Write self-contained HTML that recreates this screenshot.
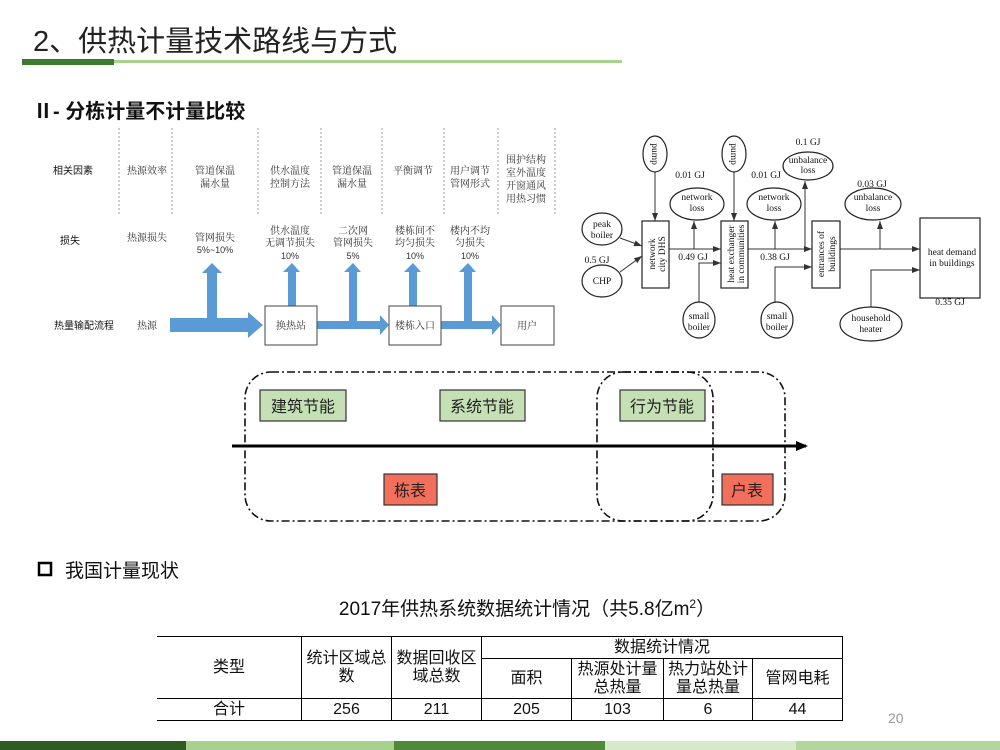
<!DOCTYPE html>
<html><head><meta charset="utf-8">
<style>
html,body{margin:0;padding:0;background:#fff;}
body{width:1000px;height:750px;position:relative;overflow:hidden;font-family:"Liberation Sans","Noto Sans CJK SC",sans-serif;}
svg text{font-family:"Liberation Serif","Noto Serif CJK SC",serif;}
.cn{font-family:"Liberation Sans","Noto Sans CJK SC",sans-serif;}
table{position:absolute;left:157px;top:636px;border-collapse:collapse;font-family:"Liberation Sans","Noto Sans CJK SC",sans-serif;font-size:16px;color:#111;}
td{border:1px solid #000;text-align:center;padding:0;line-height:18px;}
</style></head><body>
<svg width="1000" height="750" viewBox="0 0 1000 750" style="position:absolute;left:0;top:0">
<defs>
<marker id="ah" markerWidth="8" markerHeight="6" refX="8" refY="3" orient="auto" markerUnits="userSpaceOnUse"><path d="M0,0 L8,3 L0,6 z" fill="#333"/></marker>
<marker id="ab" markerWidth="12" markerHeight="12" refX="10" refY="6" orient="auto" markerUnits="userSpaceOnUse"><path d="M0,1 L12,6 L0,11 z" fill="#000"/></marker>
</defs>
<!-- header -->
<text x="33" y="51" class="cn" font-size="29" fill="#222">2、供热计量技术路线与方式</text>
<rect x="22" y="59" width="92" height="6" fill="#3e7b2e"/>
<rect x="114" y="60" width="508" height="3" fill="#a9d18e"/>
<text x="33" y="118" class="cn" font-size="20" font-weight="bold" fill="#111">Ⅱ- 分栋计量不计量比较</text>

<!-- left diagram -->
<g stroke="#999" stroke-width="1" stroke-dasharray="2,2">
<line x1="119" y1="128" x2="119" y2="214"/><line x1="172" y1="128" x2="172" y2="214"/>
<line x1="258" y1="128" x2="258" y2="214"/><line x1="321" y1="128" x2="321" y2="214"/>
<line x1="382" y1="128" x2="382" y2="214"/><line x1="444" y1="128" x2="444" y2="214"/>
<line x1="498" y1="128" x2="498" y2="214"/><line x1="555" y1="128" x2="555" y2="214"/>
</g>
<g font-size="10" fill="#333" text-anchor="middle">
<text x="73" y="174" class="cn" font-size="10" fill="#111">相关因素</text>
<text x="70" y="244" class="cn" font-size="10" fill="#111">损失</text>
<text x="84" y="329" class="cn" font-size="10" fill="#111">热量输配流程</text>
<text x="147" y="174">热源效率</text>
<text x="215" y="174">管道保温</text><text x="215" y="187">漏水量</text>
<text x="290" y="174">供水温度</text><text x="290" y="187">控制方法</text>
<text x="352" y="174">管道保温</text><text x="352" y="187">漏水量</text>
<text x="413" y="174">平衡调节</text>
<text x="470" y="174">用户调节</text><text x="470" y="187">管网形式</text>
<text x="526" y="163">围护结构</text><text x="526" y="176">室外温度</text><text x="526" y="189">开窗通风</text><text x="526" y="202">用热习惯</text>
<text x="147" y="241">热源损失</text>
<text x="215" y="241">管网损失</text><text x="215" y="253" class="cn" font-size="9">5%~10%</text>
<text x="290" y="234">供水温度</text><text x="290" y="246">无调节损失</text><text x="290" y="259" class="cn" font-size="9">10%</text>
<text x="353" y="234">二次网</text><text x="353" y="246">管网损失</text><text x="353" y="259" class="cn" font-size="9">5%</text>
<text x="415" y="234">楼栋间不</text><text x="415" y="246">均匀损失</text><text x="415" y="259" class="cn" font-size="9">10%</text>
<text x="470" y="234">楼内不均</text><text x="470" y="246">匀损失</text><text x="470" y="259" class="cn" font-size="9">10%</text>
<text x="147" y="329">热源</text>
</g>
<g fill="#5b9bd5">
<path d="M170,318 H248 V312 L263,325 L248,338 V332 H170 z"/>
<path d="M207,318 V273 H202 L212,263 L222,273 H217 V318 z"/>
<path d="M288,306 V272 H283 L292,263 L300,272 H296 V306 z"/>
<path d="M349,321 V272 H344 L353,263 L361,272 H357 V321 z"/>
<path d="M409,306 V272 H404 L413,263 L421,272 H417 V306 z"/>
<path d="M464,321 V272 H459 L468,263 L476,272 H472 V321 z"/>
<path d="M317,321 H380 V315 L389,325 L380,335 V329 H317 z"/>
<path d="M441,321 H492 V315 L501,325 L492,335 V329 H441 z"/>
</g>
<g fill="#fff" stroke="#444" stroke-width="1">
<rect x="265" y="306" width="52" height="39"/>
<rect x="389" y="306" width="52" height="39"/>
<rect x="501" y="306" width="53" height="39"/>
</g>
<g font-size="10" fill="#333" text-anchor="middle">
<text x="291" y="329">换热站</text><text x="415" y="329">楼栋入口</text><text x="527" y="329">用户</text>
</g>

<!-- right diagram -->
<g stroke="#333" stroke-width="1" fill="none">
<line x1="669" y1="249" x2="721" y2="249" marker-end="url(#ah)"/>
<line x1="694" y1="249" x2="694" y2="221" marker-end="url(#ah)"/>
<line x1="748" y1="249" x2="812" y2="249" marker-end="url(#ah)"/>
<line x1="775" y1="249" x2="775" y2="221" marker-end="url(#ah)"/>
<line x1="805" y1="249" x2="805" y2="181" marker-end="url(#ah)"/>
<line x1="840" y1="249" x2="920" y2="249" marker-end="url(#ah)"/>
<line x1="880" y1="249" x2="880" y2="221" marker-end="url(#ah)"/>
<line x1="620" y1="238" x2="642" y2="246" marker-end="url(#ah)"/>
<line x1="620" y1="272" x2="642" y2="256" marker-end="url(#ah)"/>
<line x1="655" y1="172" x2="655" y2="221" marker-end="url(#ah)"/>
<line x1="734" y1="172" x2="734" y2="221" marker-end="url(#ah)"/>
<polyline points="699,302 699,263 721,263" marker-end="url(#ah)"/>
<polyline points="775,302 775,267 812,267" marker-end="url(#ah)"/>
<polyline points="871,307 871,270 920,270" marker-end="url(#ah)"/>
</g>
<g stroke="#222" stroke-width="1.2" fill="#fff">
<rect x="642" y="221" width="27" height="67"/>
<rect x="721" y="221" width="27" height="67"/>
<rect x="812" y="221" width="28" height="67"/>
<rect x="920" y="218" width="60" height="80"/>
<ellipse cx="602" cy="229" rx="20" ry="16"/>
<ellipse cx="602" cy="281" rx="20" ry="16"/>
<ellipse cx="655" cy="154" rx="12" ry="18"/>
<ellipse cx="734" cy="154" rx="12" ry="18"/>
<ellipse cx="697" cy="204" rx="27" ry="16"/>
<ellipse cx="774" cy="204" rx="27" ry="16"/>
<ellipse cx="808" cy="166" rx="25" ry="14"/>
<ellipse cx="873" cy="204" rx="28" ry="16"/>
<ellipse cx="699" cy="320" rx="16" ry="18"/>
<ellipse cx="777" cy="320" rx="16" ry="18"/>
<ellipse cx="871" cy="324" rx="31" ry="17"/>
</g>
<g font-size="9.5" fill="#111" text-anchor="middle">
<text x="602" y="227">peak</text><text x="602" y="238">boiler</text>
<text x="602" y="294" dy="-10">CHP</text>
<text x="597" y="263">0.5 GJ</text>
<text transform="translate(652,154) rotate(90)">pump</text>
<text transform="translate(731,154) rotate(90)">pump</text>
<text x="690" y="178">0.01 GJ</text><text x="766" y="178">0.01 GJ</text>
<text x="697" y="200">network</text><text x="697" y="211">loss</text>
<text x="774" y="200">network</text><text x="774" y="211">loss</text>
<text x="808" y="145">0.1 GJ</text>
<text x="808" y="163">unbalance</text><text x="808" y="173">loss</text>
<text x="872" y="187">0.03 GJ</text>
<text x="873" y="200">unbalance</text><text x="873" y="211">loss</text>
<text x="693" y="260">0.49 GJ</text><text x="775" y="260">0.38 GJ</text>
<text x="699" y="319">small</text><text x="699" y="330">boiler</text>
<text x="777" y="319">small</text><text x="777" y="330">boiler</text>
<text x="871" y="321">household</text><text x="871" y="332">heater</text>
<text x="952" y="255">heat demand</text><text x="952" y="266">in buildings</text>
<text x="950" y="305">0.35 GJ</text>
<text transform="translate(655,254) rotate(-90)">network</text>
<text transform="translate(665,254) rotate(-90)">city DHS</text>
<text transform="translate(734,254) rotate(-90)">heat exchanger</text>
<text transform="translate(744,254) rotate(-90)">in communities</text>
<text transform="translate(824,254) rotate(-90)">entrances of</text>
<text transform="translate(835,254) rotate(-90)">buildings</text>
</g>

<!-- middle diagram -->
<g fill="none" stroke="#111" stroke-width="1.6" stroke-dasharray="8,3,2,3">
<rect x="245" y="372" width="540" height="149" rx="26"/>
<rect x="597" y="372" width="116" height="149" rx="26"/>
</g>
<line x1="232" y1="446" x2="806" y2="446" stroke="#000" stroke-width="3" marker-end="url(#ab)"/>
<g stroke="#333" stroke-width="1.2">
<rect x="260" y="390" width="86" height="31" fill="#c5e0b4"/>
<rect x="440" y="390" width="85" height="31" fill="#c5e0b4"/>
<rect x="620" y="390" width="85" height="31" fill="#c5e0b4"/>
<rect x="384" y="474" width="53" height="31" fill="#f26f5c"/>
<rect x="722" y="474" width="51" height="31" fill="#f26f5c"/>
</g>
<g class="cn" font-size="16" fill="#222" text-anchor="middle">
<text x="303" y="412" class="cn">建筑节能</text>
<text x="482" y="412" class="cn">系统节能</text>
<text x="662" y="412" class="cn">行为节能</text>
<text x="410" y="496" class="cn">栋表</text>
<text x="747" y="496" class="cn">户表</text>
</g>

<!-- bottom section -->
<rect x="39" y="563" width="12" height="12" fill="none" stroke="#000" stroke-width="2.5"/>
<text x="65" y="577" class="cn" font-size="19" fill="#111">我国计量现状</text>
<text x="527" y="615" class="cn" font-size="19" fill="#111" text-anchor="middle">2017年供热系统数据统计情况（共5.8亿m<tspan font-size="12" dy="-7">2</tspan><tspan dy="7">）</tspan></text>
<text x="888" y="723" class="cn" font-size="14" fill="#999">20</text>

<rect x="0" y="741" width="186" height="9" fill="#2f5b25"/>
<rect x="186" y="741" width="208" height="9" fill="#a9d18e"/>
<rect x="394" y="741" width="211" height="9" fill="#4e8a38"/>
<rect x="605" y="741" width="191" height="9" fill="#d6e9c8"/>
<rect x="796" y="741" width="204" height="9" fill="#b3d79b"/>
</svg>

<table>
<tr style="height:22px"><td rowspan="2" style="width:144px;border-left:none">类型</td><td rowspan="2" style="width:89px">统计区域总<br>数</td><td rowspan="2" style="width:89px">数据回收区<br>域总数</td><td colspan="4">数据统计情况</td></tr>
<tr style="height:40px"><td style="width:89px">面积</td><td style="width:91px">热源处计量<br>总热量</td><td style="width:88px">热力站处计<br>量总热量</td><td style="width:89px">管网电耗</td></tr>
<tr style="height:22px"><td style="border-left:none">合计</td><td>256</td><td>211</td><td>205</td><td>103</td><td>6</td><td>44</td></tr>
</table>
</body></html>
